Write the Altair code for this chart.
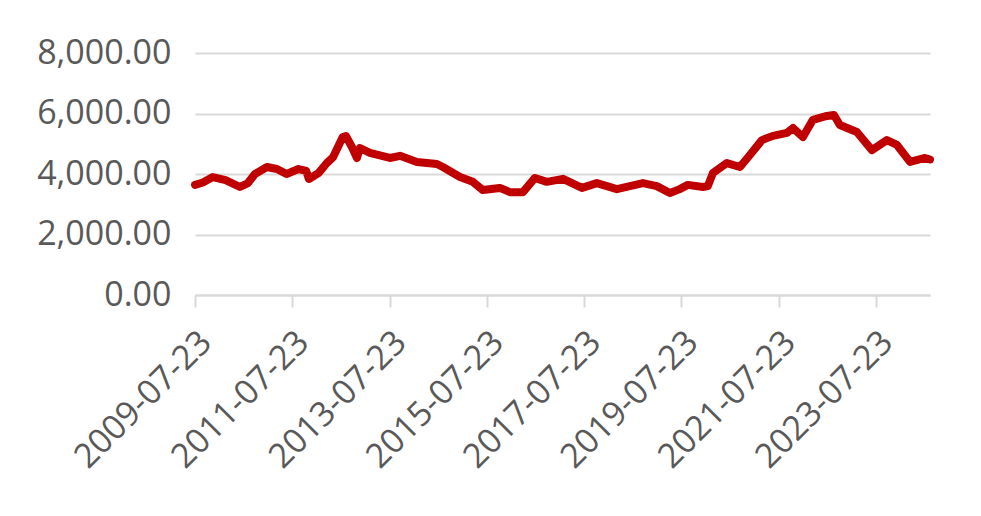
import altair as alt
import pandas as pd

dates = [
    "2009-07-23", "2009-09-20", "2009-12-04", "2010-03-10", "2010-06-25",
    "2010-08-24", "2010-10-16", "2011-01-14", "2011-03-30", "2011-06-10",
    "2011-09-08", "2011-11-05", "2011-11-25", "2012-02-05", "2012-04-08",
    "2012-05-25", "2012-08-05", "2012-08-29", "2012-10-13", "2012-11-20",
    "2012-12-12", "2013-02-25", "2013-07-25", "2013-10-09", "2014-02-13",
    "2014-07-13", "2014-08-27", "2015-01-02", "2015-04-09", "2015-06-23",
    "2015-10-29", "2016-01-12", "2016-04-19", "2016-07-18", "2016-10-16",
    "2017-02-14", "2017-07-06", "2017-10-26", "2018-03-25", "2018-10-07",
    "2019-01-19", "2019-04-27", "2019-07-10", "2019-09-09", "2019-12-31",
    "2020-02-06", "2020-03-15", "2020-06-28", "2020-10-04", "2020-12-18",
    "2021-03-18", "2021-06-09", "2021-09-22", "2021-11-06", "2022-01-20",
    "2022-04-05", "2022-07-19", "2022-09-10", "2022-10-24", "2023-03-01",
    "2023-06-22", "2023-10-12", "2023-12-27", "2024-04-03", "2024-07-24",
    "2024-08-31",
]
values = [
    3640, 3720, 3900, 3800, 3570,
    3700, 4000, 4230, 4165, 4000,
    4165, 4100, 3835, 4030, 4364,
    4560, 5223, 5256, 4893, 4530,
    4860, 4700, 4530, 4600, 4400,
    4330, 4230, 3900, 3740, 3470,
    3540, 3400, 3400, 3870, 3740,
    3840, 3540, 3700, 3500, 3700,
    3600, 3370, 3500, 3640, 3570,
    3600, 4030, 4360, 4230, 4630,
    5120, 5260, 5360, 5520, 5220,
    5790, 5920, 5950, 5620, 5390,
    4790, 5120, 4960, 4400, 4530,
    4480,
]

tick_dates = ["2009-07-23", "2011-07-23", "2013-07-23", "2015-07-23",
              "2017-07-23", "2019-07-23", "2021-07-23", "2023-07-23"]
y_ticks = [0, 2000, 4000, 6000, 8000]

df = pd.DataFrame({"date": pd.to_datetime(dates), "value": values})

FONT = "Open Sans"
GRAY = "#595959"

tick_vals = [alt.DateTime(year=int(d[:4]), month=int(d[5:7]), date=int(d[8:])) for d in tick_dates]

chart = alt.Chart(df).mark_line(color="#C00000", strokeWidth=8, strokeJoin="round", strokeCap="round").encode(
    x=alt.X("date:T",
            scale=alt.Scale(domain=[alt.DateTime(year=2009, month=7, date=23),
                                    alt.DateTime(year=2024, month=8, date=31)]),
            axis=alt.Axis(values=tick_vals, format="%Y-%m-%d", labelAngle=-45,
                          labelAlign="right", labelBaseline="middle",
                          labelFont=FONT, labelFontSize=34, labelColor=GRAY,
                          labelPadding=30, labelOffset=11, tickSize=12, tickColor="#D9D9D9", tickWidth=2,
                          domainColor="#D9D9D9", domainWidth=2, grid=False, title=None,
                          labelOverlap=False)),
    y=alt.Y("value:Q",
            scale=alt.Scale(domain=[0, 8000], nice=False),
            axis=alt.Axis(values=y_ticks, format=",.2f", labelFont=FONT, labelFontSize=34,
                          labelColor=GRAY, labelPadding=24, ticks=False, domain=False,
                          gridColor="#D9D9D9", gridWidth=2, title=None)),
).properties(
    width=735, height=242,
    autosize=alt.AutoSizeParams(type="none"),
    padding={"left": 187, "top": 45, "right": 40, "bottom": 200},
).configure_view(stroke=None)

chart.save("out.html", embed_options={"renderer": "svg", "actions": False})
